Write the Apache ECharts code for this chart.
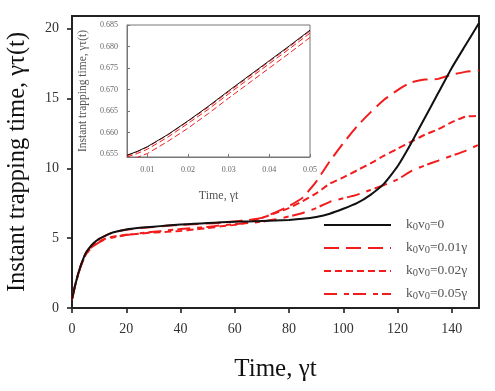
<!DOCTYPE html>
<html><head><meta charset="utf-8">
<script src="https://cdn.jsdelivr.net/npm/echarts@6/dist/echarts.min.js"></script>
<style>html,body{margin:0;padding:0;background:#fff}#c{width:495px;height:391px}</style>
</head><body><div id="c"></div>
<script>
// ---- data ----
const seriesNames = ['k0v0=0', 'k0v0=0.01γ', 'k0v0=0.02γ', 'k0v0=0.05γ'];
const mainT = [0,1,2,3,4,5,6,8,10,12,15,20,25,30,35,40,45,50,55,60,65,70,75,80,85,90,95,100,105,110,115,120,125,130,135,140,145,150];
const mainK0 =   [0.65,1.5,2.25,2.9,3.45,3.9,4.2,4.65,4.95,5.15,5.4,5.62,5.74,5.82,5.9,5.97,6.03,6.08,6.13,6.17,6.2,6.23,6.26,6.3,6.38,6.52,6.75,7.1,7.5,8.1,8.9,10.15,11.8,13.6,15.4,17.2,18.8,20.4];
const mainK001 = [0.65,1.5,2.25,2.9,3.45,3.9,4.2,4.65,4.95,5.15,5.4,5.6,5.72,5.8,5.88,5.95,6.0,6.05,6.1,6.2,6.3,6.45,6.85,7.3,7.9,9.05,10.5,11.8,13.0,14.0,14.9,15.6,16.15,16.35,16.4,16.7,16.9,17.0];
const mainK002 = [0.65,1.5,2.25,2.9,3.4,3.8,4.1,4.5,4.75,4.95,5.1,5.25,5.32,5.4,5.45,5.52,5.62,5.72,5.85,5.95,6.15,6.45,6.8,7.15,7.65,8.2,8.9,9.35,9.85,10.35,10.9,11.4,11.9,12.4,12.8,13.3,13.7,13.75];
const mainK005 = [0.6,1.45,2.2,2.85,3.35,3.75,4.05,4.45,4.7,4.9,5.05,5.22,5.35,5.45,5.55,5.65,5.72,5.8,5.92,6.0,6.08,6.18,6.35,6.55,6.8,7.15,7.6,7.85,8.1,8.45,8.8,9.2,9.8,10.2,10.55,10.9,11.25,11.7];
const mainXTicks = [0,20,40,60,80,100,120,140];
const mainYTicks = [0,5,10,15,20];

const insetT = [0.005,0.0075,0.01,0.015,0.02,0.025,0.03,0.035,0.04,0.045,0.05];
const insetK0 =   [0.6547,0.6556,0.6567,0.6595,0.6627,0.6661,0.6697,0.6732,0.6767,0.6802,0.6838];
const insetK001 = [0.6546,0.6555,0.6566,0.6594,0.6626,0.6659,0.6695,0.6730,0.6765,0.6800,0.6836];
const insetK002 = [0.6543,0.6551,0.6561,0.6589,0.6621,0.6654,0.6690,0.6725,0.6760,0.6795,0.6831];
const insetK005 = [0.6533,0.6542,0.6551,0.6579,0.6610,0.6644,0.6680,0.6715,0.6750,0.6785,0.6821];
const insetXTicks = [0.01,0.02,0.03,0.04,0.05];
const insetYTicks = [0.655,0.66,0.665,0.67,0.675,0.68,0.685];

// ---- chart ----
const pair = (xs, ys) => xs.map((x, i) => [x, ys[i]]);
const SERIF = 'Liberation Serif';
const RED = '#f21c1c';
const styles = [
  {color: '#111', type: 'solid', width: 2},
  {color: RED, type: [15, 7], width: 2},
  {color: RED, type: [7, 4], width: 2},
  {color: RED, type: [13, 7, 5, 4], width: 2}
];
const mainData = [mainK0, mainK001, mainK002, mainK005];
const insetData = [insetK0, insetK001, insetK002, insetK005];
const series = [];
mainData.forEach((d, i) => series.push({
  name: seriesNames[i], type: 'line', xAxisIndex: 0, yAxisIndex: 0,
  data: pair(mainT, d), symbol: 'none', smooth: 0.15,
  lineStyle: styles[i], itemStyle: {color: styles[i].color}, z: 3 - i + 2
}));
insetData.forEach((d, i) => series.push({
  name: seriesNames[i], type: 'line', xAxisIndex: 1, yAxisIndex: 1,
  data: pair(insetT, d), symbol: 'none', smooth: false,
  lineStyle: {color: styles[i].color, type: i === 0 ? 'solid' : [6, 3], width: 1}, z: 10 + 3 - i
}));

const fmtLegend = n => {
  const rest = n.replace('k0v0', '');
  return '{a|k}{s|0}{a|v}{s|0}{a|' + rest + '}';
};

const chart = echarts.init(document.getElementById('c'), null, {renderer: 'canvas'});
chart.setOption({
  animation: false,
  backgroundColor: '#fff',
  textStyle: {fontFamily: SERIF},
  grid: [
    {left: 72, right: 16, top: 16, bottom: 83, containLabel: false, outerBoundsMode: 'none', show: true, borderColor: '#222', borderWidth: 2, backgroundColor: 'transparent', z: 1},
    {left: 127, right: 185, top: 25, bottom: 234, containLabel: false, outerBoundsMode: 'none', show: true, borderColor: '#777', borderWidth: 1, backgroundColor: '#fff', z: 5}
  ],
  xAxis: [
    {type: 'value', gridIndex: 0, min: 0, max: 150,
     name: 'Time, γt', nameLocation: 'middle', nameGap: 49,
     nameTextStyle: {fontFamily: SERIF, fontSize: 25, color: '#111'},
     axisLine: {lineStyle: {color: '#111', width: 2}},
     axisTick: {show: true, inside: false, length: 5, customValues: mainXTicks, lineStyle: {color: '#111', width: 1.5}},
     axisLabel: {customValues: mainXTicks, margin: 14, fontFamily: SERIF, fontSize: 14, color: '#333'},
     splitLine: {show: false}},
    {type: 'value', gridIndex: 1, min: 0.005, max: 0.05, z: 6,
     name: 'Time, γt', nameLocation: 'middle', nameGap: 33,
     nameTextStyle: {fontFamily: SERIF, fontSize: 12, color: '#555'},
     axisLine: {lineStyle: {color: '#777', width: 1}},
     axisTick: {show: true, inside: true, length: 3, customValues: insetXTicks, lineStyle: {color: '#777'}},
     axisLabel: {customValues: insetXTicks, margin: 9, fontFamily: SERIF, fontSize: 8, color: '#666', formatter: v => v.toFixed(2)},
     splitLine: {show: false}}
  ],
  yAxis: [
    {type: 'value', gridIndex: 0, min: 0, max: 20.9,
     name: 'Instant trapping time, γτ(t)', nameLocation: 'middle', nameGap: 42, nameRotate: 90,
     nameTextStyle: {fontFamily: SERIF, fontSize: 24.5, color: '#111'},
     axisLine: {lineStyle: {color: '#111', width: 2}},
     axisTick: {show: true, inside: false, length: 5, customValues: mainYTicks, lineStyle: {color: '#111', width: 1.5}},
     axisLabel: {customValues: mainYTicks, margin: 13, fontFamily: SERIF, fontSize: 14, color: '#333'},
     splitLine: {show: false}},
    {type: 'value', gridIndex: 1, min: 0.6543, max: 0.685, z: 6,
     name: 'Instant trapping time, γτ(t)', nameLocation: 'middle', nameGap: 38, nameRotate: 90,
     nameTextStyle: {fontFamily: SERIF, fontSize: 11.5, color: '#555'},
     axisLine: {lineStyle: {color: '#777', width: 1}},
     axisTick: {show: true, inside: true, length: 3, customValues: insetYTicks, lineStyle: {color: '#777'}},
     axisLabel: {customValues: insetYTicks, margin: 9, fontFamily: SERIF, fontSize: 8, color: '#666', formatter: v => v.toFixed(3)},
     splitLine: {show: false}}
  ],
  legend: {
    data: seriesNames, orient: 'vertical', left: 318, top: 211,
    itemWidth: 67, itemHeight: 12, itemGap: 6,
    itemStyle: {opacity: 0},
    formatter: fmtLegend,
    textStyle: {
      fontFamily: SERIF, color: '#555', padding: [0, 0, 0, 10],
      rich: {
        a: {fontFamily: SERIF, fontSize: 13.5, color: '#555', lineHeight: 16, verticalAlign: 'top'},
        s: {fontFamily: SERIF, fontSize: 10.5, color: '#555', lineHeight: 16, verticalAlign: 'bottom', padding: [6, 0, 0, 0]}
      }
    }
  },
  series: series
});
</script></body></html>
